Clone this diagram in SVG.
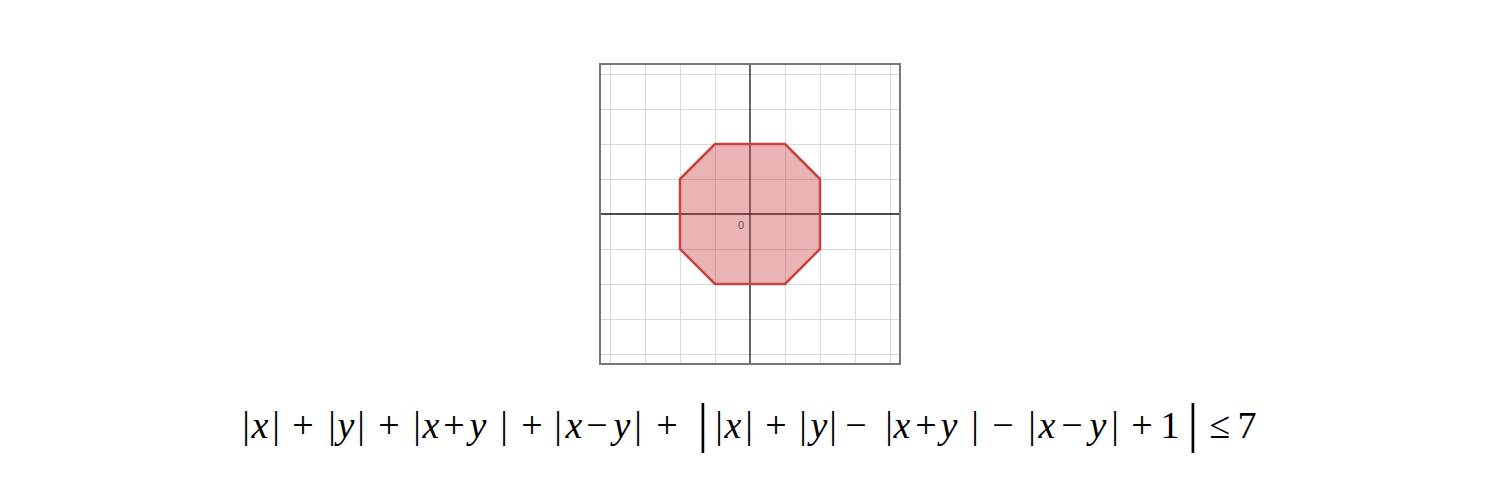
<svg xmlns="http://www.w3.org/2000/svg" width="1500" height="500" viewBox="0 0 1500 500">
<style>
.grid line{stroke:#d9d9d9;stroke-width:1}
.axis{stroke:#111;stroke-width:1.3}
</style>
<rect width="1500" height="500" fill="#fff"/>
<g id="graph">
<g class="grid">
<line x1="610.5" y1="64" x2="610.5" y2="364"/>
<line x1="645.5" y1="64" x2="645.5" y2="364"/>
<line x1="680.5" y1="64" x2="680.5" y2="364"/>
<line x1="715.5" y1="64" x2="715.5" y2="364"/>
<line x1="785.5" y1="64" x2="785.5" y2="364"/>
<line x1="820.5" y1="64" x2="820.5" y2="364"/>
<line x1="855.5" y1="64" x2="855.5" y2="364"/>
<line x1="890.5" y1="64" x2="890.5" y2="364"/>
<line x1="600" y1="74.5" x2="900" y2="74.5"/>
<line x1="600" y1="109.5" x2="900" y2="109.5"/>
<line x1="600" y1="144.5" x2="900" y2="144.5"/>
<line x1="600" y1="179.5" x2="900" y2="179.5"/>
<line x1="600" y1="249.5" x2="900" y2="249.5"/>
<line x1="600" y1="284.5" x2="900" y2="284.5"/>
<line x1="600" y1="319.5" x2="900" y2="319.5"/>
<line x1="600" y1="354.5" x2="900" y2="354.5"/>
</g>
<line class="axis" x1="750" y1="64" x2="750" y2="364"/>
<line class="axis" x1="600" y1="214" x2="900" y2="214"/>
<polygon id="region" points="715,144 785,144 820,179 820,249 785,284 715,284 680,249 680,179" fill="#c74440" fill-opacity="0.4" stroke="#c74440" stroke-width="2.5" stroke-linejoin="round"/>
<text x="738" y="229" font-family="Liberation Sans" font-size="11" fill="#555">0</text>
<rect x="600" y="64" width="300" height="300" fill="none" stroke="#777" stroke-width="2"/>
</g>
<g id="formula">
<text font-family="Liberation Serif" font-size="38" x="242.2" y="438">|</text>
<text font-family="Liberation Serif" font-size="38" font-style="italic" x="251.6" y="438">x</text>
<text font-family="Liberation Serif" font-size="38" x="272.2" y="438">|</text>
<text font-family="Liberation Serif" font-size="38" x="292.3" y="438">+</text>
<text font-family="Liberation Serif" font-size="38" x="328.2" y="438">|</text>
<text font-family="Liberation Serif" font-size="38" font-style="italic" x="337.6" y="438">y</text>
<text font-family="Liberation Serif" font-size="38" x="357.2" y="438">|</text>
<text font-family="Liberation Serif" font-size="38" x="378.3" y="438">+</text>
<text font-family="Liberation Serif" font-size="38" x="413.2" y="438">|</text>
<text font-family="Liberation Serif" font-size="38" font-style="italic" x="422.6" y="438">x</text>
<text font-family="Liberation Serif" font-size="38" x="443.3" y="438">+</text>
<text font-family="Liberation Serif" font-size="38" font-style="italic" x="469.6" y="438">y</text>
<text font-family="Liberation Serif" font-size="38" x="500.2" y="438">|</text>
<text font-family="Liberation Serif" font-size="38" x="521.3" y="438">+</text>
<text font-family="Liberation Serif" font-size="38" x="554.2" y="438">|</text>
<text font-family="Liberation Serif" font-size="38" font-style="italic" x="565.6" y="438">x</text>
<text font-family="Liberation Serif" font-size="38" x="586.3" y="438">−</text>
<text font-family="Liberation Serif" font-size="38" font-style="italic" x="613.6" y="438">y</text>
<text font-family="Liberation Serif" font-size="38" x="634.2" y="438">|</text>
<text font-family="Liberation Serif" font-size="38" x="656.3" y="438">+</text>
<text font-family="Liberation Serif" font-size="54" x="697.6" y="441">|</text>
<text font-family="Liberation Serif" font-size="38" x="715.2" y="438">|</text>
<text font-family="Liberation Serif" font-size="38" font-style="italic" x="724.6" y="438">x</text>
<text font-family="Liberation Serif" font-size="38" x="745.2" y="438">|</text>
<text font-family="Liberation Serif" font-size="38" x="765.3" y="438">+</text>
<text font-family="Liberation Serif" font-size="38" x="799.2" y="438">|</text>
<text font-family="Liberation Serif" font-size="38" font-style="italic" x="810.6" y="438">y</text>
<text font-family="Liberation Serif" font-size="38" x="829.2" y="438">|</text>
<text font-family="Liberation Serif" font-size="38" x="845.3" y="438">−</text>
<text font-family="Liberation Serif" font-size="38" x="885.2" y="438">|</text>
<text font-family="Liberation Serif" font-size="38" font-style="italic" x="893.6" y="438">x</text>
<text font-family="Liberation Serif" font-size="38" x="915.3" y="438">+</text>
<text font-family="Liberation Serif" font-size="38" font-style="italic" x="940.6" y="438">y</text>
<text font-family="Liberation Serif" font-size="38" x="971.2" y="438">|</text>
<text font-family="Liberation Serif" font-size="38" x="992.3" y="438">−</text>
<text font-family="Liberation Serif" font-size="38" x="1028.2" y="438">|</text>
<text font-family="Liberation Serif" font-size="38" font-style="italic" x="1038.6" y="438">x</text>
<text font-family="Liberation Serif" font-size="38" x="1061.3" y="438">−</text>
<text font-family="Liberation Serif" font-size="38" font-style="italic" x="1089.6" y="438">y</text>
<text font-family="Liberation Serif" font-size="38" x="1111.2" y="438">|</text>
<text font-family="Liberation Serif" font-size="38" x="1131.3" y="438">+</text>
<text font-family="Liberation Serif" font-size="38" x="1160.5" y="438">1</text>
<text font-family="Liberation Serif" font-size="54" x="1187.6" y="441">|</text>
<text font-family="Liberation Serif" font-size="38" x="1209.6" y="438">≤</text>
<text font-family="Liberation Serif" font-size="38" x="1237.5" y="438">7</text>
</g>
</svg>
